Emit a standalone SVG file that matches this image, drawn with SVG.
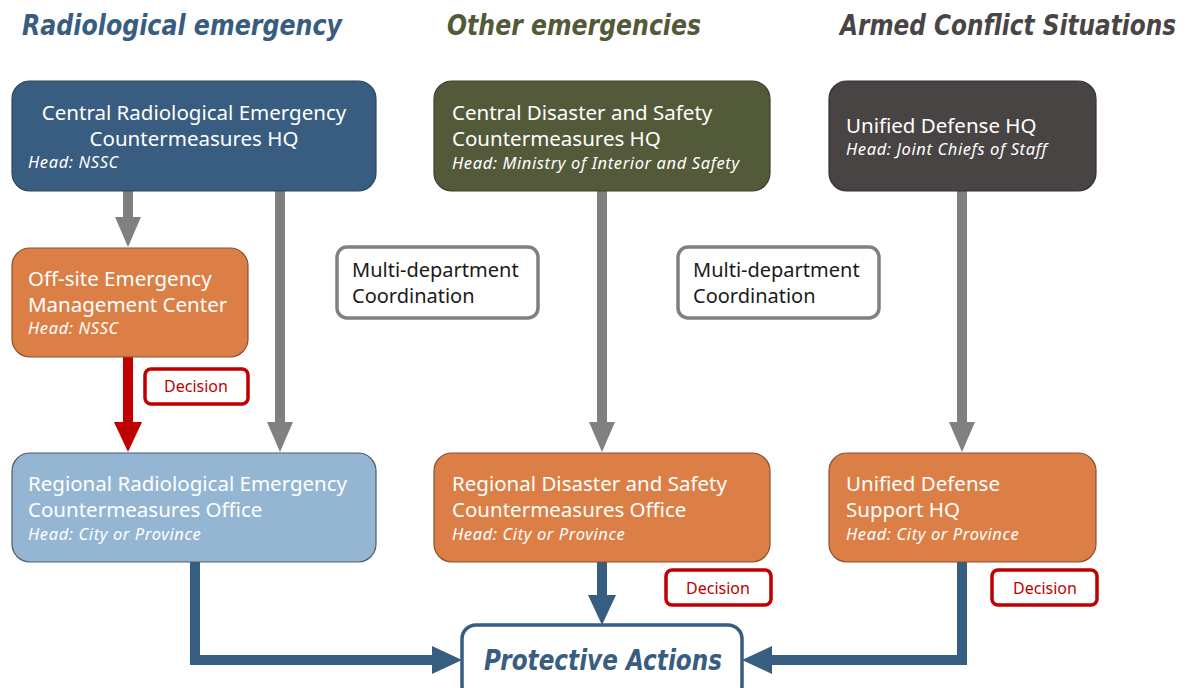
<svg xmlns="http://www.w3.org/2000/svg" width="1194" height="688" viewBox="0 0 1194 688">
<style>
.hdr{font-family:"DejaVu Sans",Verdana,sans-serif;font-weight:bold;font-style:italic;font-size:29px}
.t{font-family:"Noto Sans","Open Sans",sans-serif;font-size:20.5px;fill:#ffffff}
.h{font-family:"Noto Sans","Open Sans",sans-serif;font-size:16.5px;font-style:italic;fill:#ffffff;letter-spacing:0.6px}
.m{font-family:"Noto Sans","Open Sans",sans-serif;font-size:20px;fill:#1a1a1a}
.d{font-family:"Noto Sans","Open Sans",sans-serif;font-size:16px;fill:#c00000}
.dec{fill:#ffffff;stroke:#c00000;stroke-width:3.5}
.multi{fill:#ffffff;stroke:#808080;stroke-width:3.5}
.gray{stroke:#808080;stroke-width:10;fill:none}
.red{stroke:#c00000;stroke-width:10;fill:none}
.blue{stroke:#375d80;stroke-width:10;fill:none}
</style>
<defs>
<marker id="ag" viewBox="0 0 30 26" refX="1" refY="13" markerWidth="30" markerHeight="26" markerUnits="userSpaceOnUse" orient="auto"><path d="M0,0 L30,13 L0,26 z" fill="#808080"/></marker>
<marker id="ar" viewBox="0 0 30 28" refX="1" refY="14" markerWidth="30" markerHeight="28" markerUnits="userSpaceOnUse" orient="auto"><path d="M0,0 L30,14 L0,28 z" fill="#c00000"/></marker>
<marker id="ab" viewBox="0 0 30 28" refX="1" refY="14" markerWidth="30" markerHeight="28" markerUnits="userSpaceOnUse" orient="auto"><path d="M0,0 L30,14 L0,28 z" fill="#375d80"/></marker>
</defs>
<rect width="1194" height="688" fill="#ffffff"/>
<g id="headers">
<text class="hdr" x="22" y="35" fill="#385d80" textLength="320" lengthAdjust="spacingAndGlyphs">Radiological emergency</text>
<text class="hdr" x="447" y="35" fill="#535a39" textLength="254" lengthAdjust="spacingAndGlyphs">Other emergencies</text>
<text class="hdr" transform="translate(840,35) scale(0.8,1)" x="0" y="0" fill="#4a4545" textLength="420" lengthAdjust="spacingAndGlyphs">Armed Conflict Situations</text>
</g>
<g id="connectors">
<line class="gray" x1="128" y1="191" x2="128" y2="218" marker-end="url(#ag)"/>
<line class="gray" x1="280" y1="191" x2="280" y2="423" marker-end="url(#ag)"/>
<line class="gray" x1="602" y1="191" x2="602" y2="423" marker-end="url(#ag)"/>
<line class="gray" x1="962" y1="191" x2="962" y2="423" marker-end="url(#ag)"/>
<line class="red" x1="128" y1="357" x2="128" y2="423" marker-end="url(#ar)"/>
<path class="blue" d="M195,562 V660 H433" stroke-linejoin="miter" marker-end="url(#ab)"/>
<line class="blue" x1="602" y1="562" x2="602" y2="596" marker-end="url(#ab)"/>
<path class="blue" d="M962,562 V660 H771" stroke-linejoin="miter" marker-end="url(#ab)"/>
</g>
<g id="central-radiological">
<rect x="12" y="81" width="364" height="110" rx="18" fill="#385d80" stroke="#2a465f" stroke-width="1.2"/>
<text class="t" x="194" y="120" text-anchor="middle">Central Radiological Emergency</text>
<text class="t" x="194" y="146" text-anchor="middle">Countermeasures HQ</text>
<text class="h" x="28" y="168" letter-spacing="1.6">Head: NSSC</text>
</g>
<g id="central-disaster">
<rect x="434" y="81" width="336" height="110" rx="18" fill="#535a39" stroke="#3d4229" stroke-width="1.2"/>
<text class="t" x="452" y="120">Central Disaster and Safety</text>
<text class="t" x="452" y="146">Countermeasures HQ</text>
<text class="h" x="452" y="169">Head: Ministry of Interior and Safety</text>
</g>
<g id="unified-defense">
<rect x="829" y="81" width="267" height="110" rx="18" fill="#484444" stroke="#333030" stroke-width="1.2"/>
<text class="t" x="846" y="133">Unified Defense HQ</text>
<text class="h" x="846" y="155">Head: Joint Chiefs of Staff</text>
</g>
<g id="offsite">
<rect x="12" y="248" width="236" height="109" rx="18" fill="#dc7f46" stroke="#8a5030" stroke-width="1.2"/>
<text class="t" x="28" y="286">Off-site Emergency</text>
<text class="t" x="28" y="312">Management Center</text>
<text class="h" x="28" y="334" letter-spacing="1.6">Head: NSSC</text>
</g>
<g id="multi1">
<rect class="multi" x="337" y="247" width="201" height="71" rx="10"/>
<text class="m" x="352" y="277">Multi-department</text>
<text class="m" x="352" y="303">Coordination</text>
</g>
<g id="multi2">
<rect class="multi" x="678" y="247" width="201" height="71" rx="10"/>
<text class="m" x="693" y="277">Multi-department</text>
<text class="m" x="693" y="303">Coordination</text>
</g>
<g id="decision1">
<rect class="dec" x="145" y="369" width="103" height="35" rx="6"/>
<text class="d" x="196" y="392" text-anchor="middle">Decision</text>
</g>
<g id="regional-radiological">
<rect x="12" y="453" width="364" height="109" rx="18" fill="#94b6d3" stroke="#4d5d6b" stroke-width="1.2"/>
<text class="t" x="28" y="491">Regional Radiological Emergency</text>
<text class="t" x="28" y="517">Countermeasures Office</text>
<text class="h" x="28" y="540">Head:  City or Province</text>
</g>
<g id="regional-disaster">
<rect x="434" y="453" width="336" height="109" rx="18" fill="#dc7f46" stroke="#8a5030" stroke-width="1.2"/>
<text class="t" x="452" y="491">Regional Disaster and Safety</text>
<text class="t" x="452" y="517">Countermeasures Office</text>
<text class="h" x="452" y="540">Head:  City or Province</text>
</g>
<g id="unified-defense-support">
<rect x="829" y="453" width="267" height="109" rx="18" fill="#dc7f46" stroke="#8a5030" stroke-width="1.2"/>
<text class="t" x="846" y="491">Unified Defense</text>
<text class="t" x="846" y="517">Support HQ</text>
<text class="h" x="846" y="540">Head:  City or Province</text>
</g>
<g id="decision2">
<rect class="dec" x="666" y="570" width="105" height="35" rx="6"/>
<text class="d" x="718" y="594" text-anchor="middle">Decision</text>
</g>
<g id="decision3">
<rect class="dec" x="992" y="570" width="105" height="35" rx="6"/>
<text class="d" x="1045" y="594" text-anchor="middle">Decision</text>
</g>
<g id="protective-actions">
<rect x="462" y="625" width="280" height="75" rx="14" fill="#ffffff" stroke="#375d80" stroke-width="3.5"/>
<text class="hdr" x="603" y="670" text-anchor="middle" fill="#385d80" font-size="30" textLength="238" lengthAdjust="spacingAndGlyphs">Protective Actions</text>
</g>
</svg>
